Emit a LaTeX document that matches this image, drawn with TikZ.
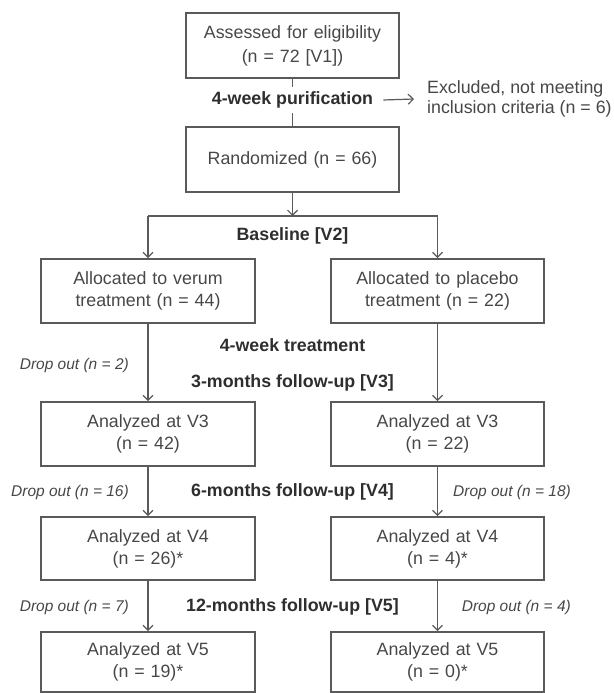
\documentclass[tikz,border=0pt]{standalone}
\usepackage{fontspec}
\setmainfont{Liberation Sans}
\usetikzlibrary{arrows.meta}
\definecolor{linec}{HTML}{5A5A5A}
\definecolor{txtc}{HTML}{474747}
\definecolor{boldc}{HTML}{2E2E2E}
\begin{document}
\begin{tikzpicture}[x=1pt,y=-1pt,
  box/.style={draw=linec, line width=1.8pt, minimum width=213.5pt, text width=205pt,
    align=center, inner sep=0pt, font=\fontsize{17.8}{22}\selectfont, text=txtc},
  phase/.style={font=\bfseries\fontsize{17.8}{22}\selectfont, text=boldc, inner sep=2pt},
  drop/.style={font=\itshape\fontsize{15.5}{19}\selectfont, text=txtc, inner sep=0pt, anchor=east},
  conn/.style={draw=linec, line width=1.2pt},
  arr/.style={conn, -{Straight Barb[length=5pt,width=10pt]}}]
\useasboundingbox (0,0) rectangle (613,693);

% boxes
\node[box, minimum height=65pt] (elig) at (292.5,45.5) {Assessed for eligibility\\[2pt](n = 72 [V1])};
\node[box, minimum height=65pt] (rand) at (292.5,159.5) {Randomized (n = 66)};
\node[box, minimum height=64pt] (allocV) at (148,291) {Allocated to verum\\treatment (n = 44)};
\node[box, minimum height=64pt] (allocP) at (437.5,291) {Allocated to placebo\\treatment (n = 22)};
\node[box, minimum height=64pt] (v3L) at (148,434) {Analyzed at V3\\(n = 42)};
\node[box, minimum height=64pt] (v3R) at (437.5,434) {Analyzed at V3\\(n = 22)};
\node[box, minimum height=63pt] (v4L) at (148,548.5) {Analyzed at V4\\(n = 26)*};
\node[box, minimum height=63pt] (v4R) at (437.5,548.5) {Analyzed at V4\\(n = 4)*};
\node[box, minimum height=60pt] (v5L) at (148,662) {Analyzed at V5\\(n = 19)*};
\node[box, minimum height=60pt] (v5R) at (437.5,662) {Analyzed at V5\\(n = 0)*};

% split coordinates
\coordinate (split) at (292.5,216);
\coordinate (sl) at (148,216);
\coordinate (sr) at (437.5,216);

% connectors
\draw[conn] (elig) -- (rand);
\node[phase, fill=white, inner ysep=5pt] (purif) at (292.5,100) {4-week purification};
\node[anchor=west, align=left, inner sep=0pt, font=\fontsize{17.8}{20}\selectfont, text=txtc] (excl) at (427,99) {Excluded, not meeting\\inclusion criteria (n = 6)};
\draw[arr] ([xshift=8pt]purif.east) -- ([xshift=-13pt]excl.west);
\draw[arr] (rand) -- (split);
\draw[conn] (sl) -- (sr);
\draw[arr] (sl) -- (allocV);
\draw[arr] (sr) -- (allocP);
\draw[arr] (allocV) -- (v3L);
\draw[arr] (allocP) -- (v3R);
\draw[arr] (v3L) -- (v4L);
\draw[arr] (v3R) -- (v4R);
\draw[arr] (v4L) -- (v5L);
\draw[arr] (v4R) -- (v5R);

% phase labels
\node[phase] (base) at (292.5,236) {Baseline [V2]};
\node[phase] (treat) at (292.5,345) {4-week treatment};
\node[phase] (fu3) at (292.5,383) {3-months follow-up [V3]};
\node[phase] (fu6) at (292.5,492) {6-months follow-up [V4]};
\node[phase] (fu12) at (292.5,607) {12-months follow-up [V5]};

% drop-out labels
\node[drop] (d1) at (129,365) {Drop out (n = 2)};
\node[drop] (d2) at (129,492) {Drop out (n = 16)};
\node[drop] (d3) at (129,607) {Drop out (n = 7)};
\node[drop] (d4) at (571,492) {Drop out (n = 18)};
\node[drop] (d5) at (571,607) {Drop out (n = 4)};
\end{tikzpicture}
\end{document}
